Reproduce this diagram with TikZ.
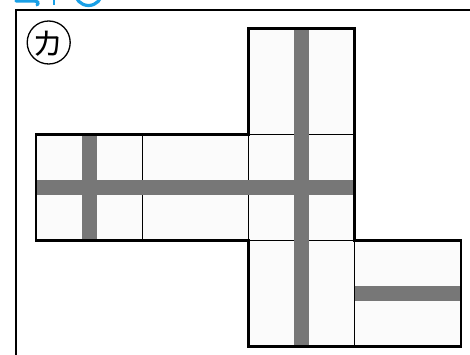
\documentclass[tikz,border=0pt]{standalone}
\usepackage{fontspec}
\newfontfamily\jp{Noto Sans CJK JP}
\definecolor{cellfill}{HTML}{FBFBFB}
\definecolor{bandgray}{HTML}{777777}
\definecolor{iconblue}{HTML}{1AA0E6}
\begin{document}
\begin{tikzpicture}[x=1pt,y=-1pt,
  frameline/.style={line width=2pt,black},
  innerline/.style={line width=1.4pt,black},
  outline/.style={line width=2.6pt,black,line join=miter},
  band/.style={line width=15pt,bandgray},
  iconstroke/.style={iconblue,line width=3.2pt}]
\useasboundingbox (0,0) rectangle (470,355);
\begin{scope}
\clip (0,0) rectangle (470,355);
% cropped blue icons at top
\draw[iconstroke,line cap=round] (16,1) -- (34,1) .. controls (38,1) and (39,3) .. (37,5);
\draw[iconblue,line width=1.6pt] (54,-2) -- (54,5);
\draw[iconstroke] (88.5,-8) circle[radius=13.5];
% frame
\draw[frameline] (15.5,360) -- (15.5,10) -- (475,10);
% label
\draw[line width=1.3pt] (48.7,42.5) circle[radius=21.5];
\node[font=\jp\fontsize{31}{31}\selectfont, inner sep=0pt] (lbl) at (48.2,43.5) {カ};
% cells
\fill[cellfill] (36,134.3) -- (248.3,134.3) -- (248.3,28.3) -- (354.6,28.3) -- (354.6,240.3) -- (460.9,240.3) -- (460.9,346.6) -- (248.3,346.6) -- (248.3,240.3) -- (36,240.3) -- cycle;
% inner lines
\draw[innerline] (142.2,134.3) -- (142.2,240.3);
\draw[innerline] (248.3,134.3) -- (248.3,240.3);
\draw[innerline] (248.3,134.3) -- (354.6,134.3);
\draw[innerline] (248.3,240.3) -- (354.6,240.3);
\draw[innerline] (354.6,240.3) -- (354.6,346.6);
% bands
\draw[band] (89.1,134.3) -- (89.1,240.3);
\draw[band] (301.5,28.3) -- (301.5,346.6);
\draw[band] (36,187.3) -- (354.6,187.3);
\draw[band] (354.6,293.5) -- (460.9,293.5);
% outline
\draw[outline] (36,134.3) -- (248.3,134.3) -- (248.3,28.3) -- (354.6,28.3) -- (354.6,240.3) -- (460.9,240.3) -- (460.9,346.6) -- (248.3,346.6) -- (248.3,240.3) -- (36,240.3) -- cycle;
\end{scope}
\end{tikzpicture}
\end{document}
